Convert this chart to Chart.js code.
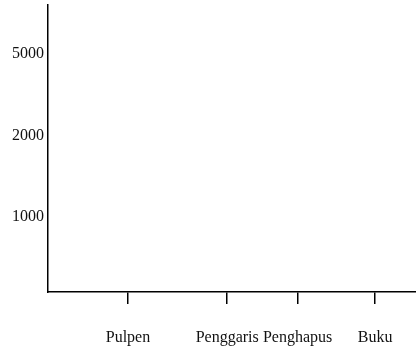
<!DOCTYPE html>
<html>
<head>
<meta charset="utf-8">
<script src="https://cdn.jsdelivr.net/npm/chart.js@4"></script>
<style>
  html, body { margin: 0; padding: 0; background: #fff; }
  #wrap { width: 416px; height: 351px; }
</style>
</head>
<body>
<div id="wrap"><canvas id="myChart"></canvas></div>
<script>
// categories on the x axis and where their ticks sit (axis units)
const categories = ['Pulpen', 'Penggaris', 'Penghapus', 'Buku'];
const categoryPos = [1.0, 2.24, 3.12, 4.09];

// y axis tick labels and their axis positions
const yLabels = ['1000', '2000', '5000'];
const yPos = [1, 2, 3];

// no marks are drawn in the picture
const values = [];

const ctx = document.getElementById('myChart');

new Chart(ctx, {
  type: 'scatter',
  data: {
    datasets: [{
      data: values,
      pointRadius: 0
    }]
  },
  options: {
    responsive: true,
    maintainAspectRatio: false,
    animation: false,
    layout: { padding: { top: 5, right: 0, left: 0, bottom: 0 } },
    plugins: { legend: { display: false }, tooltip: { enabled: false } },
    scales: {
      x: {
        type: 'linear',
        min: 0,
        max: 4.6,
        afterBuildTicks: (s) => { s.ticks = categoryPos.map(v => ({ value: v })); },
        afterFit: (s) => { s.height = 59; s.paddingLeft = 0; s.paddingRight = 0; },
        border: { display: true, color: '#000', width: 1.5 },
        grid: { drawOnChartArea: false, drawTicks: true, tickLength: 12, color: '#000', lineWidth: 1.5 },
        ticks: {
          autoSkip: false,
          maxRotation: 0,
          padding: 24,
          color: '#111',
          font: { family: 'Liberation Serif', size: 16 },
          callback: (v) => {
            const i = categoryPos.indexOf(v);
            return i >= 0 ? categories[i] : '';
          }
        }
      },
      y: {
        type: 'linear',
        min: 0.075,
        max: 3.605,
        afterBuildTicks: (s) => { s.ticks = yPos.map(v => ({ value: v })); },
        afterFit: (s) => { s.width = 48; s.paddingTop = 0; s.paddingBottom = 0; },
        border: { display: true, color: '#000', width: 1.5 },
        grid: { display: false, drawTicks: false },
        ticks: {
          padding: 4,
          color: '#111',
          font: { family: 'Liberation Serif', size: 16 },
          callback: (v) => {
            const i = yPos.indexOf(v);
            return i >= 0 ? yLabels[i] : '';
          }
        }
      }
    }
  }
});
</script>
</body>
</html>
